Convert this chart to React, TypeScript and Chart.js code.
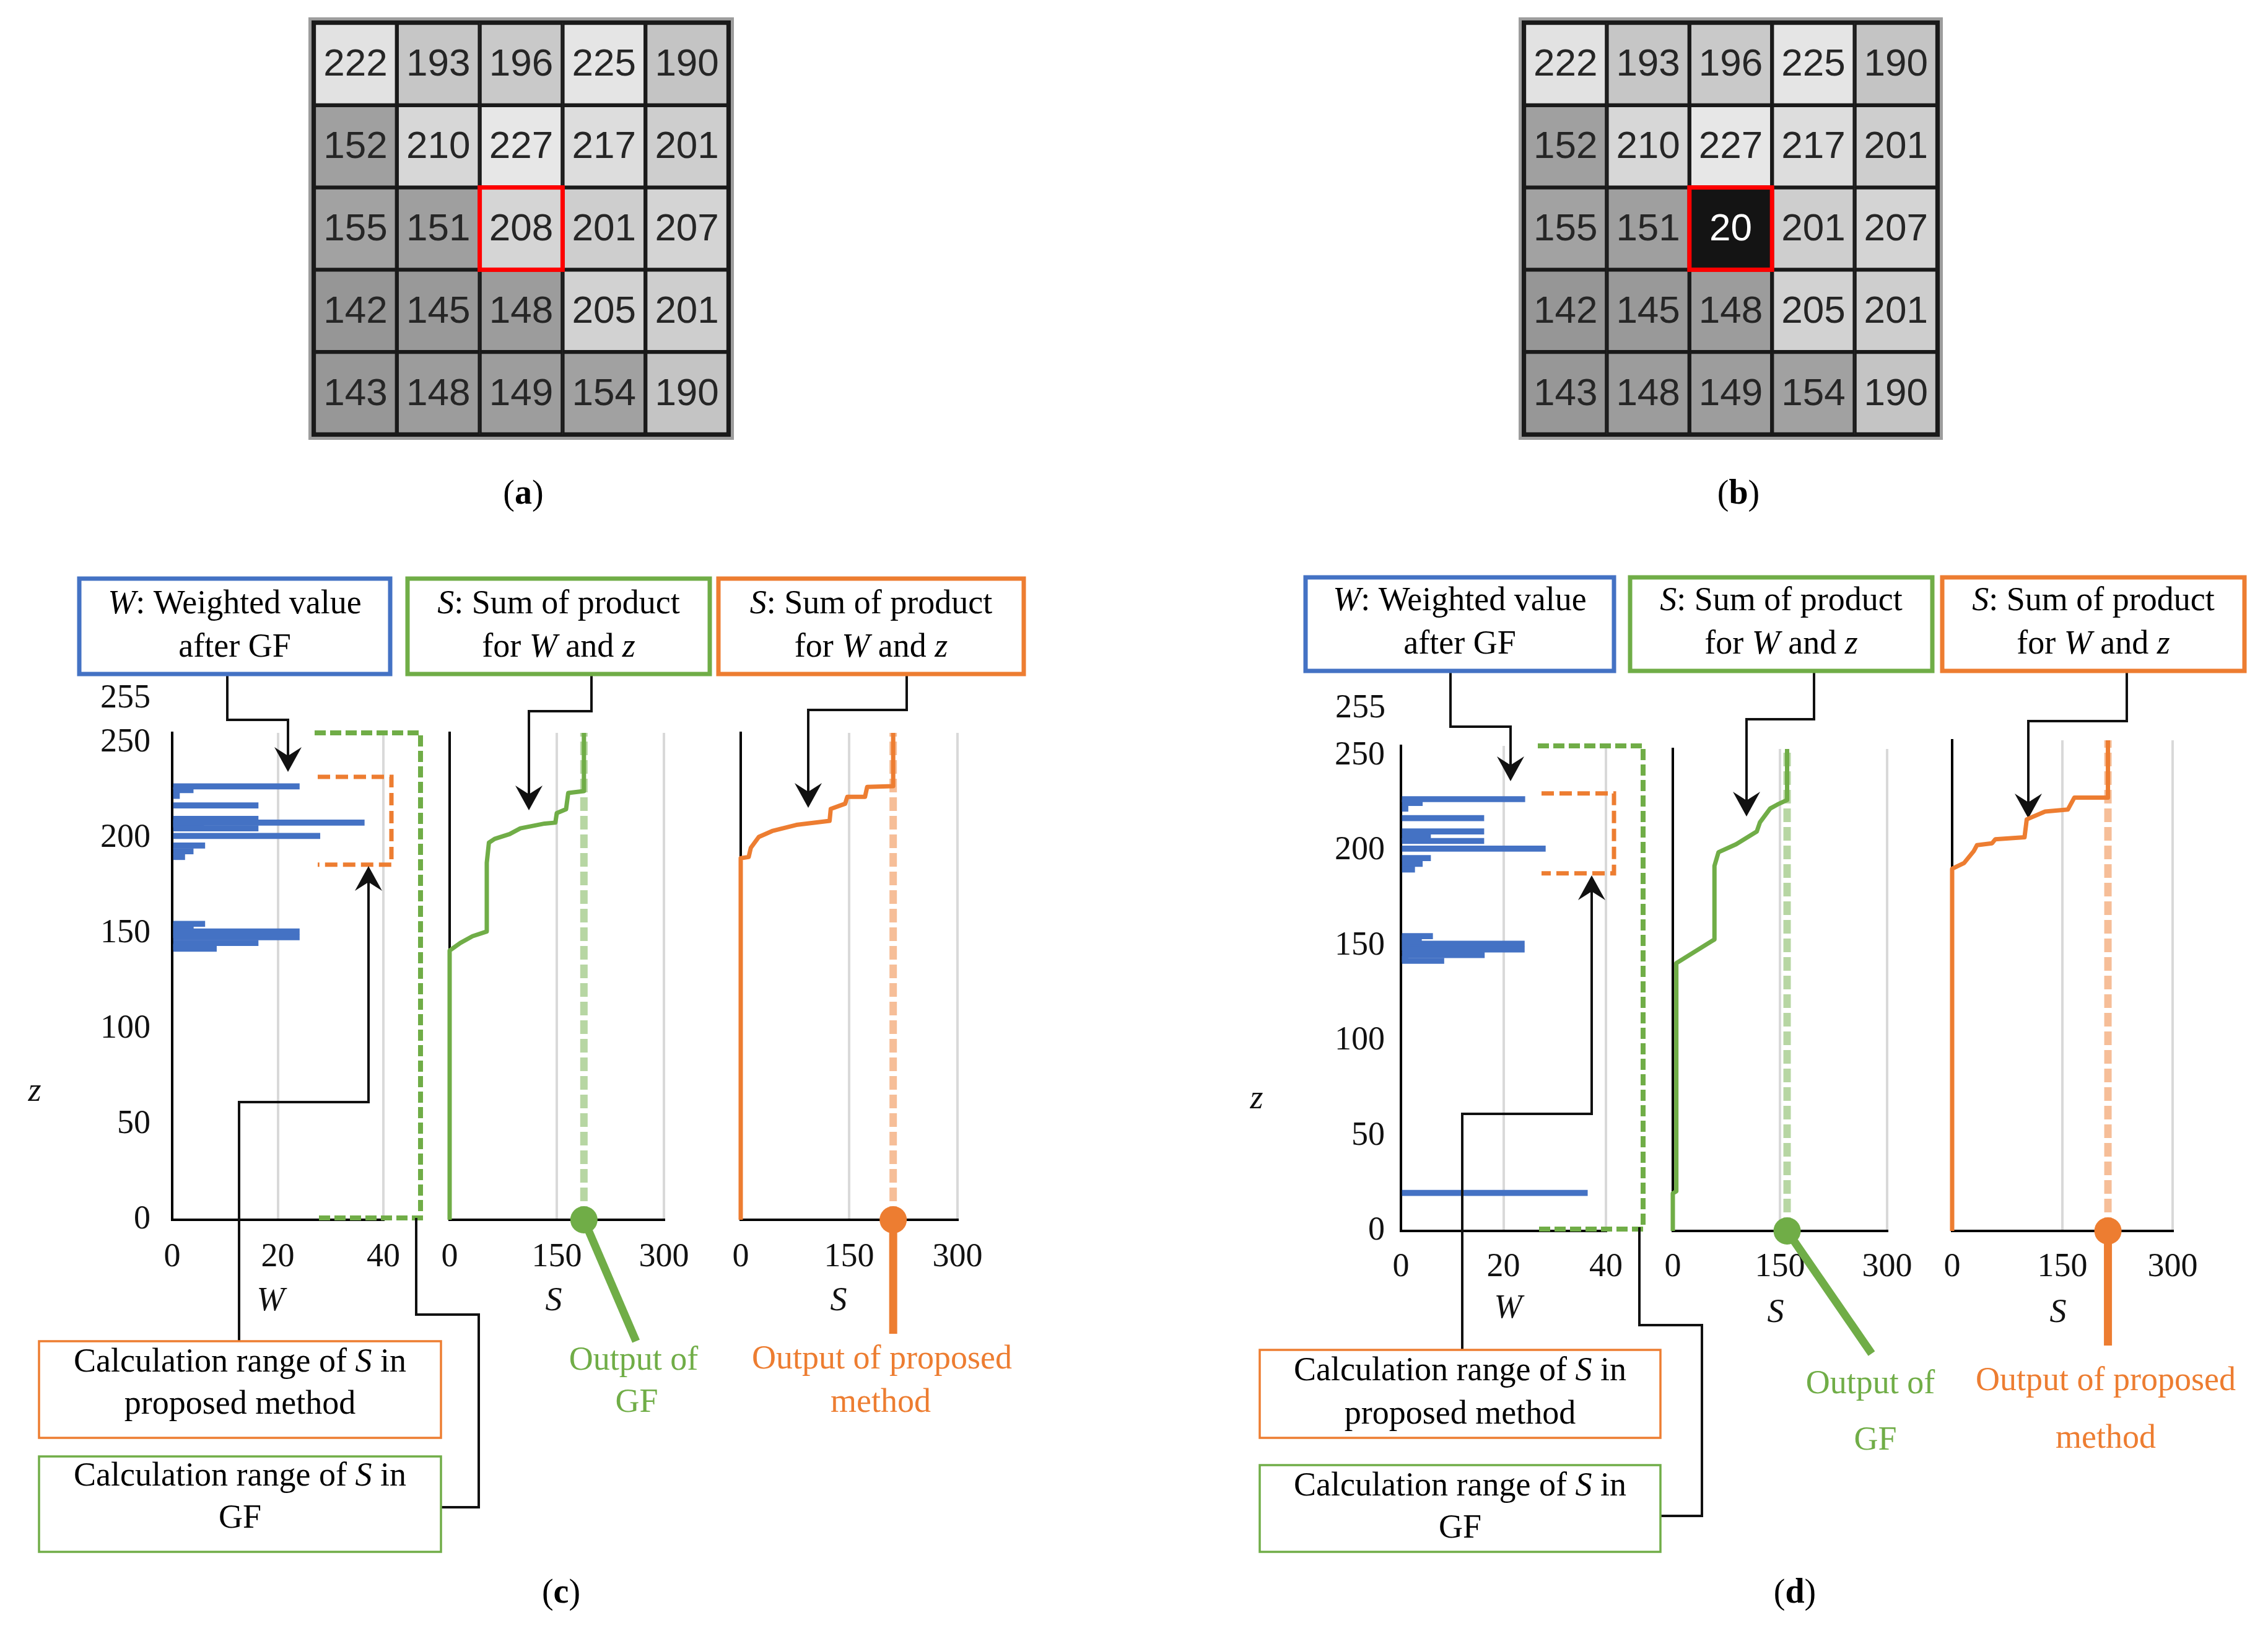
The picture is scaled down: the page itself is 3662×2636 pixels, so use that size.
import React, { useEffect, useRef } from 'react';
import { Chart, registerables } from 'chart.js';

Chart.register(...registerables);

// ================= DATA =================
const gridAValues = [
  [222, 193, 196, 225, 190],
  [152, 210, 227, 217, 201],
  [155, 151, 208, 201, 207],
  [142, 145, 148, 205, 201],
  [143, 148, 149, 154, 190],
];
const gridBValues = [
  [222, 193, 196, 225, 190],
  [152, 210, 227, 217, 201],
  [155, 151, 20, 201, 207],
  [142, 145, 148, 205, 201],
  [143, 148, 149, 154, 190],
];
const gridColumns = ['c1', 'c2', 'c3', 'c4', 'c5'];
const centerCell = { row: 2, col: 2 };

const zTicks = [0, 50, 100, 150, 200, 250];
const zMax = 255;
const zTopLabel = '255';
const wTicks = [0, 20, 40];
const wMax = 40;
const sTicks = [0, 150, 300];
const sMax = 300;

// (c) histogram of weights W at pixel value z
const histZC = [227, 225, 222, 217, 210, 208, 207, 205, 201, 196, 193, 190, 155, 154, 152, 151, 149, 148, 145, 143, 142];
const histWC = [24.1, 4.0, 1.4, 16.3, 16.3, 36.4, 6.0, 16.3, 28.0, 6.2, 4.0, 2.4, 6.2, 4.0, 4.0, 24.1, 6.0, 24.1, 16.3, 1.4, 8.4];
// (d) histogram
const histZD = [227, 225, 222, 217, 210, 207, 205, 201, 196, 193, 190, 155, 154, 152, 151, 149, 148, 145, 143, 142, 20];
const histWD = [24.2, 4.2, 1.4, 16.2, 16.2, 5.8, 16.2, 28.2, 5.8, 4.2, 2.7, 6.2, 4.0, 4.0, 24.1, 6.0, 24.1, 16.3, 1.4, 8.4, 36.4];

// (c) S curve of GF (S, z)
const gfSC = [0, 0, 15, 32, 52, 52, 55, 63, 84, 99, 133, 148, 150, 163, 166, 188, 188];
const gfZC = [0, 141, 145, 148.5, 151, 187, 197.5, 199.5, 202, 205, 207.5, 208, 213, 215, 223.5, 224.5, 255];
const gfOutC = 188;
// (c) S curve of proposed method
const prSC = [0, 0, 11, 14, 25, 43.5, 77, 123, 124.6, 144.5, 147.5, 172, 175, 211, 211];
const prZC = [0, 189.4, 190, 194.8, 200.5, 203.6, 206.8, 208.9, 215.2, 217.9, 221.5, 221.5, 226.7, 227.1, 255];
const prOutC = 211;
// (d) S curve of GF
const gfSD = [0, 0, 4.9, 4.9, 54, 58.3, 58.3, 64, 88.7, 117.5, 122, 136.3, 146.4, 160, 160];
const gfZD = [0, 19.9, 21, 141.7, 153.2, 154.2, 193.1, 200.4, 204.6, 211.3, 216.2, 223.5, 225.6, 228, 255];
const gfOutD = 160;
// (d) S curve of proposed method
const prSD = [0, 0, 16.2, 29.4, 33.8, 54.4, 58.8, 98.5, 101.5, 126.5, 157.4, 166.2, 212, 212];
const prZD = [0, 188.2, 191.2, 197.4, 200.5, 201.5, 203.6, 204.6, 213.9, 218, 219, 225.2, 225.2, 255];
const prOutD = 212;

// calculation ranges of S (z)
const gfRange = [0, 255];
const prRangeC = [186, 232];
const prRangeD = [188, 230];

// ================= STYLE =================
const BLUE = '#4472C4';
const GREEN = '#70AD47';
const ORANGE = '#ED7D31';
const GREEN_LIGHT = 'rgba(112,173,71,0.5)';
const ORANGE_LIGHT = 'rgba(237,125,49,0.5)';
const GRID = '#D9D9D9';
const SERIF = "'Liberation Serif', 'Times New Roman', serif";
const TICK_FONT = { family: SERIF, size: 54 };
const TICK_COLOR = '#111';
const TXT = 54;
const X_AXIS_H = 150;
const Y_AXIS_W = 200;

type Seg = { t: string; i?: boolean; b?: boolean };
const T = (t: string): Seg => ({ t });
const I = (t: string): Seg => ({ t, i: true });
const Bd = (t: string): Seg => ({ t, b: true });

const LINES_W: Seg[][] = [[I('W'), T(': Weighted value')], [T('after GF')]];
const LINES_S: Seg[][] = [[I('S'), T(': Sum of product')], [T('for '), I('W'), T(' and '), I('z')]];
const LINES_CALC_PR: Seg[][] = [[T('Calculation range of '), I('S'), T(' in')], [T('proposed method')]];
const LINES_CALC_GF: Seg[][] = [[T('Calculation range of '), I('S'), T(' in')], [T('GF')]];

const fontOf = (s: Seg, size: number) => `${s.i ? 'italic ' : ''}${s.b ? 'bold ' : ''}${size}px ${SERIF}`;

function drawRich(ctx: CanvasRenderingContext2D, segs: Seg[], cx: number, cy: number, size: number, color: string) {
  ctx.save();
  ctx.fillStyle = color;
  ctx.textBaseline = 'middle';
  ctx.textAlign = 'left';
  const widths = segs.map((s) => {
    ctx.font = fontOf(s, size);
    return ctx.measureText(s.t).width;
  });
  const total = widths.reduce((a, b) => a + b, 0);
  let x = cx - total / 2;
  segs.forEach((s, k) => {
    ctx.font = fontOf(s, size);
    ctx.fillText(s.t, x, cy);
    x += widths[k];
  });
  ctx.restore();
}

function drawConnector(ctx: CanvasRenderingContext2D, pts: number[][], head: boolean) {
  ctx.save();
  ctx.strokeStyle = '#111';
  ctx.fillStyle = '#111';
  ctx.lineWidth = 4;
  ctx.lineJoin = 'miter';
  const end = pts[pts.length - 1];
  const prev = pts[pts.length - 2];
  const dx = end[0] - prev[0];
  const dy = end[1] - prev[1];
  const len = Math.hypot(dx, dy) || 1;
  const ux = dx / len;
  const uy = dy / len;
  const L = 40, H = 22, N = 14;
  ctx.beginPath();
  ctx.moveTo(pts[0][0], pts[0][1]);
  for (let k = 1; k < pts.length - 1; k++) ctx.lineTo(pts[k][0], pts[k][1]);
  if (head) ctx.lineTo(end[0] - ux * (L - N), end[1] - uy * (L - N));
  else ctx.lineTo(end[0], end[1]);
  ctx.stroke();
  if (head) {
    const px = -uy, py = ux;
    ctx.beginPath();
    ctx.moveTo(end[0], end[1]);
    ctx.lineTo(end[0] - ux * L + px * H, end[1] - uy * L + py * H);
    ctx.lineTo(end[0] - ux * (L - N), end[1] - uy * (L - N));
    ctx.lineTo(end[0] - ux * L - px * H, end[1] - uy * L - py * H);
    ctx.closePath();
    ctx.fill();
  }
  ctx.restore();
}

function drawOpenBox(ctx: CanvasRenderingContext2D, x1: number, x2: number, yTop: number, yBot: number, color: string, w: number, dash: number[]) {
  ctx.save();
  ctx.strokeStyle = color;
  ctx.lineWidth = w;
  ctx.setLineDash(dash);
  ctx.beginPath();
  ctx.moveTo(x1, yTop);
  ctx.lineTo(x2, yTop);
  ctx.lineTo(x2, yBot);
  ctx.lineTo(x1, yBot);
  ctx.stroke();
  ctx.restore();
}

type Box = { left: number; top: number; width: number; height: number };
type Area = { l: number; t: number; r: number; b: number };

const baseOptions = (canvas: Box, area: Area, yW: number, xH: number) => ({
  animation: false,
  responsive: false,
  maintainAspectRatio: false,
  devicePixelRatio: 1,
  events: [],
  layout: {
    padding: {
      left: area.l - canvas.left - yW,
      top: area.t - canvas.top,
      right: canvas.left + canvas.width - area.r,
      bottom: canvas.top + canvas.height - area.b - xH,
    },
  },
  plugins: { legend: { display: false }, tooltip: { enabled: false }, title: { display: false } },
});

const xScaleOpt = (max: number, ticks: number[], pad: number) => ({
  type: 'linear',
  min: 0,
  max,
  offset: false,
  afterBuildTicks: (s: any) => {
    s.ticks = ticks.map((v) => ({ value: v }));
  },
  afterFit: (s: any) => {
    s.height = X_AXIS_H;
  },
  grid: {
    color: (c: any) => (c.tick && c.tick.value === 0 ? 'rgba(0,0,0,0)' : GRID),
    lineWidth: 4,
    drawTicks: false,
    offset: false,
  },
  border: { display: true, color: '#000', width: 4 },
  ticks: { font: TICK_FONT, color: TICK_COLOR, padding: pad, maxRotation: 0, autoSkip: false },
});

const yScaleOpt = (showTicks: boolean, pad: number, yW: number) => ({
  type: 'linear',
  min: 0,
  max: zMax,
  offset: false,
  afterBuildTicks: (s: any) => {
    s.ticks = zTicks.map((v) => ({ value: v }));
  },
  afterFit: (s: any) => {
    s.width = yW;
  },
  grid: { display: false, drawTicks: false, offset: false },
  border: { display: true, color: '#000', width: 4 },
  ticks: { display: showTicks, font: TICK_FONT, color: TICK_COLOR, padding: pad, autoSkip: false },
});

// ================= PANELS =================
type OutText = { lines: string[]; color: string; pts: number[][] };
type Panel = {
  canvas: Box;
  wArea: Area;
  gArea: Area;
  oArea: Area;
  xTickPad: number;
  yTickPad: number;
  histZ: number[];
  histW: number[];
  gS: number[];
  gZ: number[];
  gOut: number;
  oS: number[];
  oZ: number[];
  oOut: number;
  prRange: number[];
  gfBox: { x1: number; x2: number };
  prBox: { x1: number; x2: number };
  label255: { x: number; y: number };
  zLabel: { x: number; y: number };
  axisTitles: { t: string; x: number; y: number }[];
  topBoxes: { x1: number; y1: number; x2: number; y2: number; color: string; ly: number[]; lines: Seg[][] }[];
  bottomBoxes: { x1: number; y1: number; x2: number; y2: number; color: string; ly: number[]; lines: Seg[][] }[];
  arrows: { pts: number[][]; head: boolean }[];
  outTexts: OutText[];
  panelLabel: { x: number; y: number; segs: Seg[] };
  gOutEnd: { x: number | null; y: number };
  oOutEnd: { x: number | null; y: number };
};

const panelC: Panel = {
  canvas: { left: 0, top: 880, width: 1800, height: 1756 },
  wArea: { l: 278, t: 1183, r: 619, b: 1969 },
  gArea: { l: 726, t: 1183, r: 1072, b: 1969 },
  oArea: { l: 1196, t: 1183, r: 1546, b: 1969 },
  xTickPad: 28,
  yTickPad: 35,
  histZ: histZC,
  histW: histWC,
  gS: gfSC,
  gZ: gfZC,
  gOut: gfOutC,
  oS: prSC,
  oZ: prZC,
  oOut: prOutC,
  prRange: prRangeC,
  gfBox: { x1: 508, x2: 679 },
  prBox: { x1: 513, x2: 632 },
  label255: { x: 243, y: 1128 },
  zLabel: { x: 56, y: 1763 },
  axisTitles: [
    { t: 'W', x: 437, y: 2101 },
    { t: 'S', x: 894, y: 2101 },
    { t: 'S', x: 1354, y: 2101 },
  ],
  topBoxes: [
    { x1: 128, y1: 934, x2: 630, y2: 1088, color: BLUE, ly: [976, 1046], lines: LINES_W },
    { x1: 658, y1: 934, x2: 1146, y2: 1088, color: GREEN, ly: [976, 1046], lines: LINES_S },
    { x1: 1160, y1: 934, x2: 1653, y2: 1088, color: ORANGE, ly: [976, 1046], lines: LINES_S },
  ],
  bottomBoxes: [
    { x1: 63, y1: 2165, x2: 712, y2: 2321, color: ORANGE, ly: [2200, 2268], lines: LINES_CALC_PR },
    { x1: 63, y1: 2351, x2: 712, y2: 2505, color: GREEN, ly: [2384, 2452], lines: LINES_CALC_GF },
  ],
  arrows: [
    { pts: [[367, 1088], [367, 1162], [465, 1162], [465, 1246]], head: true },
    { pts: [[955, 1088], [955, 1148], [854, 1148], [854, 1308]], head: true },
    { pts: [[1464, 1088], [1464, 1146], [1305, 1146], [1305, 1304]], head: true },
    { pts: [[386, 2165], [386, 1779], [595, 1779], [595, 1398]], head: true },
    { pts: [[672, 1966], [672, 2122], [773, 2122], [773, 2433], [712, 2433]], head: false },
  ],
  outTexts: [
    { lines: ['Output of', 'GF'], color: GREEN, pts: [[1023, 2197], [1028, 2265]] },
    { lines: ['Output of proposed', 'method'], color: ORANGE, pts: [[1424, 2195], [1422, 2265]] },
  ],
  panelLabel: { x: 906, y: 2573, segs: [T('('), Bd('c'), T(')')] },
  gOutEnd: { x: 1027, y: 2165 },
  oOutEnd: { x: null, y: 2153 },
};

const panelD: Panel = {
  canvas: { left: 1810, top: 880, width: 1852, height: 1756 },
  wArea: { l: 2262, t: 1204, r: 2593, b: 1987 },
  gArea: { l: 2701, t: 1209, r: 3047, b: 1987 },
  oArea: { l: 3152, t: 1195, r: 3508, b: 1987 },
  xTickPad: 26,
  yTickPad: 26,
  histZ: histZD,
  histW: histWD,
  gS: gfSD,
  gZ: gfZD,
  gOut: gfOutD,
  oS: prSD,
  oZ: prZD,
  oOut: prOutD,
  prRange: prRangeD,
  gfBox: { x1: 2483, x2: 2653 },
  prBox: { x1: 2489, x2: 2606 },
  label255: { x: 2237, y: 1144 },
  zLabel: { x: 2029, y: 1775 },
  axisTitles: [
    { t: 'W', x: 2435, y: 2113 },
    { t: 'S', x: 2867, y: 2120 },
    { t: 'S', x: 3323, y: 2120 },
  ],
  topBoxes: [
    { x1: 2108, y1: 932, x2: 2606, y2: 1083, color: BLUE, ly: [971, 1041], lines: LINES_W },
    { x1: 2632, y1: 932, x2: 3120, y2: 1083, color: GREEN, ly: [971, 1041], lines: LINES_S },
    { x1: 3136, y1: 932, x2: 3624, y2: 1083, color: ORANGE, ly: [971, 1041], lines: LINES_S },
  ],
  bottomBoxes: [
    { x1: 2034, y1: 2179, x2: 2681, y2: 2321, color: ORANGE, ly: [2214, 2284], lines: LINES_CALC_PR },
    { x1: 2034, y1: 2365, x2: 2681, y2: 2505, color: GREEN, ly: [2400, 2468], lines: LINES_CALC_GF },
  ],
  arrows: [
    { pts: [[2342, 1083], [2342, 1173], [2439, 1173], [2439, 1261]], head: true },
    { pts: [[2929, 1083], [2929, 1161], [2820, 1161], [2820, 1318]], head: true },
    { pts: [[3434, 1083], [3434, 1164], [3275, 1164], [3275, 1321]], head: true },
    { pts: [[2361, 2179], [2361, 1798], [2570, 1798], [2570, 1413]], head: true },
    { pts: [[2647, 1981], [2647, 2139], [2748, 2139], [2748, 2447], [2681, 2447]], head: false },
  ],
  outTexts: [
    { lines: ['Output of', 'GF'], color: GREEN, pts: [[3020, 2235], [3028, 2326]] },
    { lines: ['Output of proposed', 'method'], color: ORANGE, pts: [[3400, 2230], [3400, 2323]] },
  ],
  panelLabel: { x: 2898, y: 2573, segs: [T('('), Bd('d'), T(')')] },
  gOutEnd: { x: 3022, y: 2185 },
  oOutEnd: { x: null, y: 2172 },
};

function makePanelPlugin(p: Panel) {
  return {
    id: 'panelAnn',
    afterDraw(chart: any) {
      const ctx: CanvasRenderingContext2D = chart.ctx;
      const ox = p.canvas.left;
      const oy = p.canvas.top;
      const ys = chart.scales.y;
      const zy = (z: number) => ys.getPixelForValue(z) + oy;
      ctx.save();
      ctx.translate(-ox, -oy);
      // calculation range boxes
      drawOpenBox(ctx, p.gfBox.x1, p.gfBox.x2, zy(gfRange[1]), zy(gfRange[0]) - 3, GREEN, 8, [18, 7]);
      drawOpenBox(ctx, p.prBox.x1, p.prBox.x2, zy(p.prRange[1]), zy(p.prRange[0]), ORANGE, 7, [20, 9]);
      // "255" label
      ctx.fillStyle = TICK_COLOR;
      ctx.font = `54px ${SERIF}`;
      ctx.textAlign = 'right';
      ctx.textBaseline = 'middle';
      ctx.fillText(zTopLabel, p.label255.x, p.label255.y);
      // axis titles
      drawRich(ctx, [I('z')], p.zLabel.x, p.zLabel.y, TXT, '#111');
      p.axisTitles.forEach((a) => drawRich(ctx, [I(a.t)], a.x, a.y, TXT, '#111'));
      // connectors
      p.arrows.forEach((a) => drawConnector(ctx, a.pts, a.head));
      // boxes
      p.topBoxes.forEach((b) => {
        ctx.save();
        ctx.fillStyle = '#fff';
        ctx.fillRect(b.x1, b.y1, b.x2 - b.x1, b.y2 - b.y1);
        ctx.strokeStyle = b.color;
        ctx.lineWidth = 7;
        ctx.strokeRect(b.x1, b.y1, b.x2 - b.x1, b.y2 - b.y1);
        ctx.restore();
        const cx = (b.x1 + b.x2) / 2;
        b.lines.forEach((ln, k) => drawRich(ctx, ln, cx, b.ly[k], TXT, '#000'));
      });
      p.bottomBoxes.forEach((b) => {
        ctx.save();
        ctx.fillStyle = '#fff';
        ctx.fillRect(b.x1, b.y1, b.x2 - b.x1, b.y2 - b.y1);
        ctx.strokeStyle = b.color;
        ctx.lineWidth = 3.5;
        ctx.strokeRect(b.x1, b.y1, b.x2 - b.x1, b.y2 - b.y1);
        ctx.restore();
        const cx = (b.x1 + b.x2) / 2;
        b.lines.forEach((ln, k) => drawRich(ctx, ln, cx, b.ly[k], TXT, '#000'));
      });
      // output texts
      p.outTexts.forEach((o) => {
        o.lines.forEach((ln, k) => drawRich(ctx, [T(ln)], o.pts[k][0], o.pts[k][1], TXT, o.color));
      });
      drawRich(ctx, p.panelLabel.segs, p.panelLabel.x, p.panelLabel.y, 56, '#000');
      ctx.restore();
    },
  };
}

function makeOutPlugin(p: Panel, out: number, end: { x: number | null; y: number }, color: string) {
  return {
    id: 'outLine',
    beforeDatasetsDraw(chart: any) {
      const ctx: CanvasRenderingContext2D = chart.ctx;
      const sx = chart.scales.x.getPixelForValue(out);
      const sy = chart.scales.y.getPixelForValue(0);
      const ex = end.x === null ? sx : end.x - p.canvas.left;
      const ey = end.y - p.canvas.top;
      ctx.save();
      ctx.strokeStyle = color;
      ctx.lineWidth = 13;
      ctx.lineCap = 'butt';
      ctx.beginPath();
      ctx.moveTo(sx, sy);
      ctx.lineTo(ex, ey);
      ctx.stroke();
      ctx.restore();
    },
  };
}

function makeWConfig(p: Panel) {
  return {
    type: 'bar',
    data: {
      datasets: [
        {
          data: p.histZ.map((z, i) => ({ x: p.histW[i], y: z })),
          backgroundColor: BLUE,
          borderWidth: 0,
          barThickness: 9,
        },
      ],
    },
    options: {
      ...baseOptions(p.canvas, p.wArea, Y_AXIS_W, X_AXIS_H),
      indexAxis: 'y',
      scales: { x: xScaleOpt(wMax, wTicks, p.xTickPad), y: yScaleOpt(true, p.yTickPad, Y_AXIS_W) },
    },
    plugins: [makePanelPlugin(p)],
  };
}

function makeSConfig(p: Panel, area: Area, sArr: number[], zArr: number[], out: number, color: string, light: string, end: { x: number | null; y: number }) {
  return {
    type: 'scatter',
    data: {
      datasets: [
        {
          data: [{ x: out, y: 0 }],
          pointRadius: 22,
          pointHoverRadius: 22,
          pointBackgroundColor: color,
          pointBorderWidth: 0,
          showLine: false,
          clip: false,
        },
        {
          data: sArr.map((s, i) => ({ x: s, y: zArr[i] })),
          showLine: true,
          borderColor: color,
          borderWidth: 7,
          borderJoinStyle: 'round',
          pointRadius: 0,
          tension: 0,
          clip: false,
        },
        {
          data: [
            { x: out, y: 0 },
            { x: out, y: zMax },
          ],
          showLine: true,
          borderColor: light,
          borderWidth: 12,
          borderDash: [22, 8],
          pointRadius: 0,
          clip: false,
        },
      ],
    },
    options: {
      ...baseOptions(p.canvas, area, 0, X_AXIS_H),
      scales: { x: xScaleOpt(sMax, sTicks, p.xTickPad), y: yScaleOpt(false, 0, 0) },
    },
    plugins: [makeOutPlugin(p, out, end, color)],
  };
}

// ================= GRIDS =================
const shade = (v: number) => {
  if (v < 100) return '#141414';
  const g = Math.max(0, Math.min(255, Math.round(150 + (v - 142) * 0.95)));
  return `rgb(${g},${g},${g})`;
};

type GridSpec = { canvas: Box; area: Area; values: number[][]; label: { x: number; y: number; segs: Seg[] } };

const gridA: GridSpec = {
  canvas: { left: 470, top: 20, width: 740, height: 830 },
  area: { l: 507, t: 37, r: 1176, b: 701 },
  values: gridAValues,
  label: { x: 845, y: 799, segs: [T('('), Bd('a'), T(')')] },
};
const gridB: GridSpec = {
  canvas: { left: 2425, top: 20, width: 740, height: 830 },
  area: { l: 2461, t: 37, r: 3128, b: 701 },
  values: gridBValues,
  label: { x: 2807, y: 799, segs: [T('('), Bd('b'), T(')')] },
};

function makeGridConfig(g: GridSpec) {
  const rows = g.values.length;
  const datasets: any[] = [];
  for (let r = rows - 1; r >= 0; r--) {
    datasets.push({
      data: g.values[r].map(() => 1),
      cellValues: g.values[r],
      backgroundColor: g.values[r].map(shade),
      borderColor: '#1a1a1a',
      borderWidth: 3.5,
      borderSkipped: false,
      barPercentage: 1,
      categoryPercentage: 1,
      stack: 'cells',
    });
  }
  const plugin = {
    id: 'gridText',
    afterDatasetsDraw(chart: any) {
      const ctx: CanvasRenderingContext2D = chart.ctx;
      ctx.save();
      chart.data.datasets.forEach((ds: any, di: number) => {
        const meta = chart.getDatasetMeta(di);
        meta.data.forEach((el: any, ci: number) => {
          const v = ds.cellValues[ci];
          ctx.fillStyle = v < 100 ? '#ffffff' : '#262626';
          ctx.font = `62px 'Liberation Sans', Arial, sans-serif`;
          ctx.textAlign = 'center';
          ctx.textBaseline = 'middle';
          ctx.fillText(String(v), el.x, (el.y + el.base) / 2 + 2);
        });
      });
      const a = chart.chartArea;
      ctx.strokeStyle = '#1a1a1a';
      ctx.lineWidth = 4;
      ctx.strokeRect(a.left - 2, a.top - 2, a.right - a.left + 4, a.bottom - a.top + 4);
      ctx.strokeStyle = 'rgba(140,140,140,0.85)';
      ctx.lineWidth = 5;
      ctx.strokeRect(a.left - 6.5, a.top - 6.5, a.right - a.left + 13, a.bottom - a.top + 13);
      // red frame around the target pixel
      const meta = chart.getDatasetMeta(rows - 1 - centerCell.row);
      const el = meta.data[centerCell.col];
      ctx.strokeStyle = '#FF0000';
      ctx.lineWidth = 7;
      ctx.strokeRect(el.x - el.width / 2, el.y, el.width, el.base - el.y);
      // label
      ctx.translate(-g.canvas.left, -g.canvas.top);
      drawRich(ctx, g.label.segs, g.label.x, g.label.y, 56, '#000');
      ctx.restore();
    },
  };
  return {
    type: 'bar',
    data: { labels: gridColumns, datasets },
    options: {
      ...baseOptions(g.canvas, g.area, 0, 0),
      scales: {
        x: { display: false, stacked: true },
        y: { display: false, stacked: true, min: 0, max: rows },
      },
    },
    plugins: [plugin],
  };
}

// ================= REACT =================
function ChartCanvas({ box, make }: { box: Box; make: () => any }) {
  const ref = useRef<HTMLCanvasElement | null>(null);
  useEffect(() => {
    if (!ref.current) return;
    const chart = new Chart(ref.current, make());
    return () => chart.destroy();
  }, []);
  return (
    <canvas
      ref={ref}
      width={box.width}
      height={box.height}
      style={{ position: 'absolute', left: box.left, top: box.top, width: box.width, height: box.height }}
    />
  );
}

export default function App() {
  return (
    <div style={{ position: 'absolute', left: 0, top: 0, width: 3662, height: 2636, overflow: 'hidden', background: '#ffffff' }}>
      <ChartCanvas box={gridA.canvas} make={() => makeGridConfig(gridA)} />
      <ChartCanvas box={gridB.canvas} make={() => makeGridConfig(gridB)} />
      <ChartCanvas box={panelC.canvas} make={() => makeWConfig(panelC)} />
      <ChartCanvas box={panelC.canvas} make={() => makeSConfig(panelC, panelC.gArea, panelC.gS, panelC.gZ, panelC.gOut, GREEN, GREEN_LIGHT, panelC.gOutEnd)} />
      <ChartCanvas box={panelC.canvas} make={() => makeSConfig(panelC, panelC.oArea, panelC.oS, panelC.oZ, panelC.oOut, ORANGE, ORANGE_LIGHT, panelC.oOutEnd)} />
      <ChartCanvas box={panelD.canvas} make={() => makeWConfig(panelD)} />
      <ChartCanvas box={panelD.canvas} make={() => makeSConfig(panelD, panelD.gArea, panelD.gS, panelD.gZ, panelD.gOut, GREEN, GREEN_LIGHT, panelD.gOutEnd)} />
      <ChartCanvas box={panelD.canvas} make={() => makeSConfig(panelD, panelD.oArea, panelD.oS, panelD.oZ, panelD.oOut, ORANGE, ORANGE_LIGHT, panelD.oOutEnd)} />
    </div>
  );
}
